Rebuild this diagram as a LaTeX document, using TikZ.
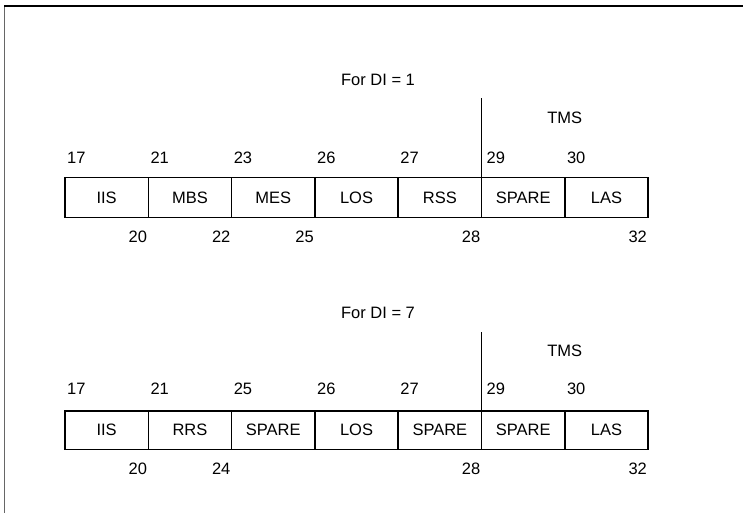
\documentclass[tikz,border=0pt]{standalone}
\usepackage{fontspec}
\setmainfont{Liberation Sans}
\usetikzlibrary{positioning}

\tikzset{
  cell/.style={draw, rectangle, line width=1.5pt, outer sep=0pt, minimum width=83.3pt, minimum height=40pt, inner sep=0pt},
  cellb/.style={cell, minimum height=38.3pt},
  num/.style={inner sep=0pt},
  txt/.style={inner sep=0pt},
  bar/.style={line width=1.4pt}
}

\begin{document}
\begin{tikzpicture}[x=1pt, y=1pt, font=\fontsize{16.5}{19}\selectfont]

		\useasboundingbox (0,0) rectangle (743,513);
		\coordinate (fa) at (4,0);
		\coordinate (fb) at (4,507);
		\coordinate (fc) at (743,507);
		\draw [line width=0.8pt, black!60] (fa) -- (fb);
		\draw [line width=1.2pt] (fb) -- (fc);

		% DI = 1
		\node [txt, anchor=base] (di1) at (378,427) {For DI = 1};
		\node [cell] (a1) at (106.65,315.3) {IIS};
		\node [cell, right=0pt of a1] (a2) {MBS};
		\node [cell, right=0pt of a2] (a3) {MES};
		\node [cell, right=0pt of a3] (a4) {LOS};
		\node [cell, right=0pt of a4] (a5) {RSS};
		\node [cell, right=0pt of a5] (a6) {SPARE};
		\node [cell, right=0pt of a6] (a7) {LAS};

		\node [num, anchor=base west] (a17) at ([shift={(2,14)}]a1.north west) {17};
		\node [num, anchor=base west] (a21) at ([shift={(2,14)}]a2.north west) {21};
		\node [num, anchor=base west] (a23) at ([shift={(2,14)}]a3.north west) {23};
		\node [num, anchor=base west] (a26) at ([shift={(2,14)}]a4.north west) {26};
		\node [num, anchor=base west] (a27) at ([shift={(2,14)}]a5.north west) {27};
		\node [num, anchor=base west] (a29) at ([shift={(5,14)}]a6.north west) {29};
		\node [num, anchor=base west] (a30) at ([shift={(2,14)}]a7.north west) {30};

		\node [num, anchor=base east] (a20) at ([shift={(-1,-24.5)}]a1.south east) {20};
		\node [num, anchor=base east] (a22) at ([shift={(-1,-24.5)}]a2.south east) {22};
		\node [num, anchor=base east] (a25) at ([shift={(-1,-24.5)}]a3.south east) {25};
		\node [num, anchor=base east] (a28) at ([shift={(-1,-24.5)}]a5.south east) {28};
		\node [num, anchor=base east] (a32) at ([shift={(-1,-24.5)}]a7.south east) {32};

		\coordinate (at) at ([yshift=80pt]a6.north west);
		\draw [bar] (a6.north west) -- (at);
		\node [txt, anchor=base] (tms1) at ([yshift=54pt]a7.north west) {TMS};

		% DI = 7
		\node [txt, anchor=base] (di7) at (378,194.7) {For DI = 7};
		\node [cellb] (b1) at (106.65,82.85) {IIS};
		\node [cellb, right=0pt of b1] (b2) {RRS};
		\node [cellb, right=0pt of b2] (b3) {SPARE};
		\node [cellb, right=0pt of b3] (b4) {LOS};
		\node [cellb, right=0pt of b4] (b5) {SPARE};
		\node [cellb, right=0pt of b5] (b6) {SPARE};
		\node [cellb, right=0pt of b6] (b7) {LAS};

		\node [num, anchor=base west] (b17) at ([shift={(2,16)}]b1.north west) {17};
		\node [num, anchor=base west] (b21) at ([shift={(2,16)}]b2.north west) {21};
		\node [num, anchor=base west] (b25) at ([shift={(2,16)}]b3.north west) {25};
		\node [num, anchor=base west] (b26) at ([shift={(2,16)}]b4.north west) {26};
		\node [num, anchor=base west] (b27) at ([shift={(2,16)}]b5.north west) {27};
		\node [num, anchor=base west] (b29) at ([shift={(5,16)}]b6.north west) {29};
		\node [num, anchor=base west] (b30) at ([shift={(2,16)}]b7.north west) {30};

		\node [num, anchor=base east] (b20) at ([shift={(-1,-25.7)}]b1.south east) {20};
		\node [num, anchor=base east] (b24) at ([shift={(-1,-25.7)}]b2.south east) {24};
		\node [num, anchor=base east] (b28) at ([shift={(-1,-25.7)}]b5.south east) {28};
		\node [num, anchor=base east] (b32) at ([shift={(-1,-25.7)}]b7.south east) {32};

		\coordinate (bt) at ([yshift=79pt]b6.north west);
		\draw [bar] (b6.north west) -- (bt);
		\node [txt, anchor=base] (tms7) at ([yshift=54pt]b7.north west) {TMS};

\end{tikzpicture}
\end{document}
